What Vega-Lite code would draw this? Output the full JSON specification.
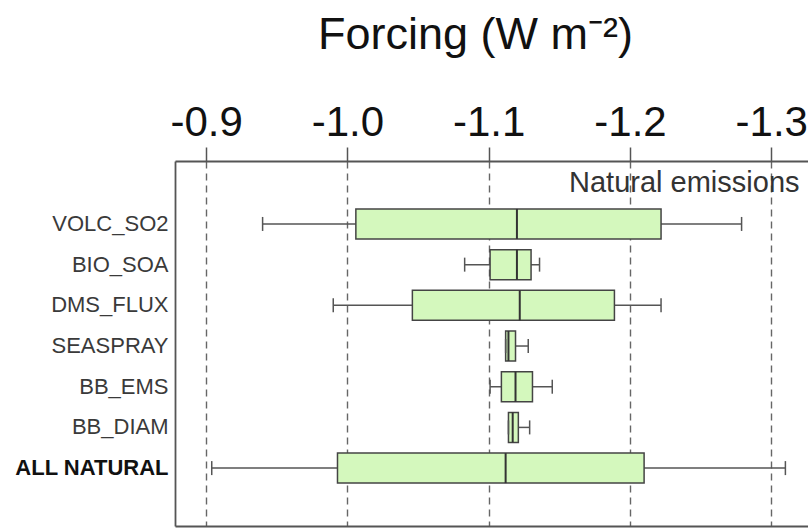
{
  "$schema": "https://vega.github.io/schema/vega-lite/v6.json",
  "autosize": "none",
  "padding": {"left": 175, "top": 161, "right": 0, "bottom": 3},
  "width": 633,
  "height": 365,
  "background": "white",
  "config": {
    "view": {"stroke": null},
    "font": "Liberation Sans"
  },
  "data": {
    "values": [
      {"src": "VOLC_SO2", "lo": -0.940, "q1": -1.006, "med": -1.120, "q3": -1.222, "hi": -1.279},
      {"src": "BIO_SOA", "lo": -1.083, "q1": -1.101, "med": -1.120, "q3": -1.130, "hi": -1.136},
      {"src": "DMS_FLUX", "lo": -0.990, "q1": -1.046, "med": -1.122, "q3": -1.189, "hi": -1.222},
      {"src": "SEASPRAY", "lo": -1.112, "q1": -1.112, "med": -1.114, "q3": -1.119, "hi": -1.128},
      {"src": "BB_EMS", "lo": -1.101, "q1": -1.109, "med": -1.119, "q3": -1.131, "hi": -1.145},
      {"src": "BB_DIAM", "lo": -1.114, "q1": -1.114, "med": -1.117, "q3": -1.121, "hi": -1.129},
      {"src": "ALL NATURAL", "lo": -0.904, "q1": -0.993, "med": -1.112, "q3": -1.210, "hi": -1.310}
    ]
  },
  "encoding": {
    "y": {
      "field": "src",
      "type": "nominal",
      "sort": ["VOLC_SO2", "BIO_SOA", "DMS_FLUX", "SEASPRAY", "BB_EMS", "BB_DIAM", "ALL NATURAL"],
      "scale": {"type": "band", "paddingInner": 0.03, "paddingOuter": 1, "align": 0.531},
      "axis": {
        "title": null,
        "ticks": false,
        "domain": true,
        "domainColor": "#555555",
        "domainWidth": 1.8,
        "labelFontSize": 22,
        "labelColor": {"condition": {"test": "datum.value === 'ALL NATURAL'", "value": "#111111"}, "value": "#3a3a3a"},
        "labelFontWeight": {"condition": {"test": "datum.value === 'ALL NATURAL'", "value": "bold"}, "value": "normal"},
        "labelPadding": 7,
        "grid": false
      }
    }
  },
  "layer": [
    {
      "mark": {"type": "rule", "color": "#555555", "strokeWidth": 1.5},
      "encoding": {
        "x": {
          "field": "lo",
          "type": "quantitative",
          "scale": {"domain": [-1.326, -0.878], "reverse": true, "nice": false, "zero": false},
          "axis": {
            "orient": "top",
            "values": [-0.9, -1.0, -1.1, -1.2, -1.3],
            "format": ".1f",
            "labelExpr": "replace(datum.label, '−', '-')",
            "title": "Forcing (W m⁻²)",
            "titleFontSize": 45,
            "titleFontWeight": "normal",
            "titleColor": "#111111",
            "titleX": 300,
            "titleY": -113,
            "titleBaseline": "alphabetic",
            "titleAlign": "center",
            "labelFontSize": 42,
            "labelColor": "#111111",
            "labelBaseline": "alphabetic",
            "labelPadding": 12,
            "labelFlush": false,
            "labelOverlap": false,
            "tickSize": 14,
            "tickColor": "#555555",
            "tickWidth": 1.5,
            "domainColor": "#555555",
            "domainWidth": 1.8,
            "grid": true,
            "gridColor": "#666666",
            "gridWidth": 1.4,
            "gridDash": [7, 5]
          }
        },
        "x2": {"field": "hi"}
      }
    },
    {
      "mark": {"type": "bar", "size": 30, "fill": "#d4f8bd", "stroke": "#444444", "strokeWidth": 1.5},
      "encoding": {
        "x": {
          "field": "q1",
          "type": "quantitative",
          "axis": {
            "orient": "bottom",
            "labels": false,
            "ticks": false,
            "grid": false,
            "title": null,
            "domain": true,
            "domainColor": "#555555",
            "domainWidth": 1.8
          }
        },
        "x2": {"field": "q3"}
      }
    },
    {
      "mark": {"type": "tick", "size": 30, "thickness": 2, "color": "#333333", "opacity": 1},
      "encoding": {
        "x": {"field": "med", "type": "quantitative", "axis": null}
      }
    },
    {
      "mark": {"type": "tick", "size": 14, "thickness": 1.5, "color": "#555555", "opacity": 1},
      "encoding": {
        "x": {"field": "lo", "type": "quantitative", "axis": null}
      }
    },
    {
      "mark": {"type": "tick", "size": 14, "thickness": 1.5, "color": "#555555", "opacity": 1},
      "encoding": {
        "x": {"field": "hi", "type": "quantitative", "axis": null}
      }
    },
    {
      "data": {"values": [{"t": "Natural emissions"}]},
      "mark": {"type": "text", "align": "right", "baseline": "alphabetic", "fontSize": 29, "color": "#333333", "dy": -32},
      "encoding": {
        "x": {"datum": -1.32, "type": "quantitative", "axis": null},
        "y": {"datum": "VOLC_SO2", "type": "nominal"},
        "text": {"field": "t"}
      }
    }
  ],
  "resolve": {"axis": {"x": "independent"}}
}
